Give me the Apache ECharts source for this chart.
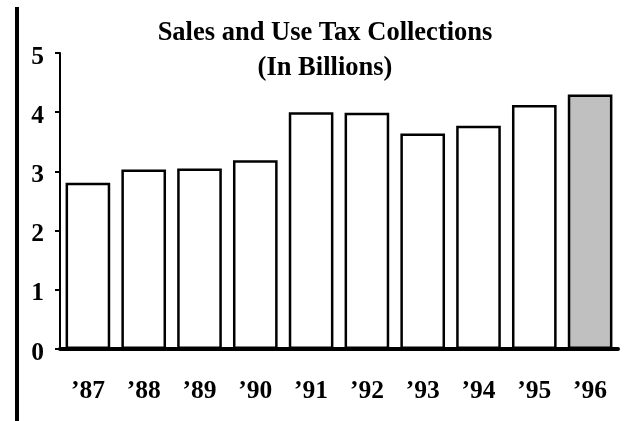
<!DOCTYPE html>
<html>
<head>
<meta charset="utf-8">
<script src="https://cdn.jsdelivr.net/npm/echarts@6/dist/echarts.min.js"></script>
<style>
  html, body { margin: 0; padding: 0; background: #fff; }
  #chart { width: 639px; height: 421px; }
</style>
</head>
<body>
<div id="chart"></div>
<script>
// Fiscal years and sales & use tax collections, in billions of dollars
const years = ['’87', '’88', '’89', '’90', '’91', '’92', '’93', '’94', '’95', '’96'];
const collections = [2.81, 3.03, 3.05, 3.19, 4.00, 3.99, 3.64, 3.77, 4.12, 4.30];
const yTicks = [0, 1, 2, 3, 4, 5];
const highlightYear = '’96';

const FONT = '"Liberation Serif", "Times New Roman", serif';

const chart = echarts.init(document.getElementById('chart'), null, { renderer: 'canvas' });

chart.setOption({
  backgroundColor: '#ffffff',
  animation: false,
  title: {
    text: 'Sales and Use Tax Collections\n(In Billions)',
    left: 320,
    top: 11,
    textAlign: 'center',
    textStyle: {
      fontFamily: FONT,
      fontWeight: 'bold',
      fontSize: 26.5,
      lineHeight: 35,
      color: '#000'
    }
  },
  grid: { left: 60, right: 21, top: 53, bottom: 72 },
  xAxis: {
    type: 'category',
    data: years,
    axisLine: { lineStyle: { color: '#000', width: 4 } },
    axisTick: { show: false },
    axisLabel: {
      margin: 29,
      fontFamily: FONT,
      fontWeight: 'bold',
      fontSize: 25.5,
      color: '#000'
    }
  },
  yAxis: {
    type: 'value',
    min: yTicks[0],
    max: yTicks[yTicks.length - 1],
    interval: 1,
    splitLine: { show: false },
    axisLine: { show: true, lineStyle: { color: '#000', width: 2 } },
    axisTick: { show: true, length: 5, lineStyle: { color: '#000', width: 2 } },
    axisLabel: {
      margin: 16,
      formatter: v => '{n|' + v + '}',
      rich: {
        n: {
          fontFamily: FONT,
          fontWeight: 'bold',
          fontSize: 25.5,
          color: '#000',
          padding: [8, 0, 0, 0]
        }
      }
    }
  },
  graphic: [{
    type: 'line',
    shape: { x1: 17, y1: 7, x2: 17, y2: 421 },
    style: { stroke: '#000', lineWidth: 4 }
  }],
  series: [{
    type: 'bar',
    barCategoryGap: '20%',
    data: collections.map((v, i) => ({
      value: v,
      itemStyle: { color: years[i] === highlightYear ? '#c0c0c0' : '#ffffff' }
    })),
    itemStyle: { borderColor: '#000', borderWidth: 2.5 }
  }]
});
</script>
</body>
</html>
